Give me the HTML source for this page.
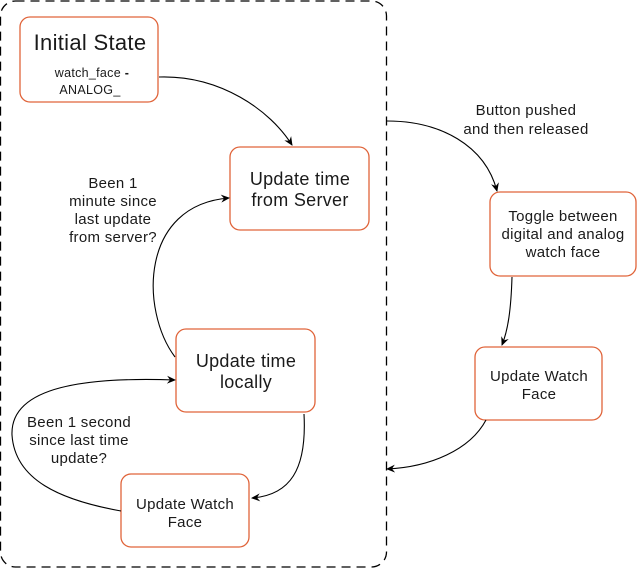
<!DOCTYPE html>
<html><head><style>
html,body{margin:0;padding:0;background:#fff;}
svg{display:block;}
text{font-family:"Liberation Sans",sans-serif;fill:#1a1a1a;letter-spacing:0.3px;}
</style></head><body>
<svg width="638" height="568" viewBox="0 0 638 568">
<defs><marker id="a" markerWidth="10" markerHeight="10" refX="8" refY="5" orient="auto" markerUnits="userSpaceOnUse"><path d="M0,1 L9,5 L0,9 L3,5 Z" fill="#000"/></marker></defs>
<rect x="0.5" y="1" width="386" height="566" rx="15" fill="none" stroke="#000" stroke-width="1.3" stroke-dasharray="9,6"/>
<g fill="#fff" stroke="#e0643a" stroke-width="1.3">
<rect x="20" y="17" width="138" height="85" rx="10"/>
<rect x="230" y="147" width="139" height="83" rx="10"/>
<rect x="176" y="329" width="139" height="83" rx="10"/>
<rect x="121" y="474" width="128" height="73" rx="10"/>
<rect x="490" y="192" width="146" height="84" rx="10"/>
<rect x="475" y="347" width="127" height="73" rx="10"/>
</g>
<g fill="none" stroke="#000" stroke-width="1.1">
<path d="M159,77 C220,75 270,110 292,145" marker-end="url(#a)"/>
<path d="M175,357 C140,310 140,205 229,198" marker-end="url(#a)"/>
<path d="M121,511 C60,500 15,480 12,435 C10,385 90,377 175,380" marker-end="url(#a)"/>
<path d="M304,414 C307,470 290,495 252,498" marker-end="url(#a)"/>
<path d="M387,121 C440,121 485,145 497,191" marker-end="url(#a)"/>
<path d="M512,277 C511,310 508,330 502,345" marker-end="url(#a)"/>
<path d="M486,420 C470,450 430,467 387,469" marker-end="url(#a)"/>
</g>
<g text-anchor="middle">
<text x="90" y="50" font-size="22">Initial State</text>
<text x="92" y="77" font-size="12.5">watch_face <tspan font-weight="bold">-</tspan></text>
<text x="90" y="94" font-size="12.5">ANALOG_</text>
<text x="300" y="185" font-size="18">Update time</text>
<text x="300" y="206" font-size="18">from Server</text>
<text x="246" y="367" font-size="18">Update time</text>
<text x="246" y="388" font-size="18">locally</text>
<text x="185" y="509" font-size="15">Update Watch</text>
<text x="185" y="527" font-size="15">Face</text>
<text x="563" y="221" font-size="15">Toggle between</text>
<text x="563" y="239" font-size="15">digital and analog</text>
<text x="563" y="257" font-size="15">watch face</text>
<text x="539" y="381" font-size="15">Update Watch</text>
<text x="539" y="399" font-size="15">Face</text>
<text x="113" y="188" font-size="15">Been 1</text>
<text x="113" y="206" font-size="15">minute since</text>
<text x="113" y="224" font-size="15">last update</text>
<text x="113" y="242" font-size="15">from server?</text>
<text x="79" y="427" font-size="15">Been 1 second</text>
<text x="79" y="445" font-size="15">since last time</text>
<text x="79" y="463" font-size="15">update?</text>
<text x="526" y="115" font-size="15">Button pushed</text>
<text x="526" y="134" font-size="15">and then released</text>
</g>
</svg>
</body></html>
